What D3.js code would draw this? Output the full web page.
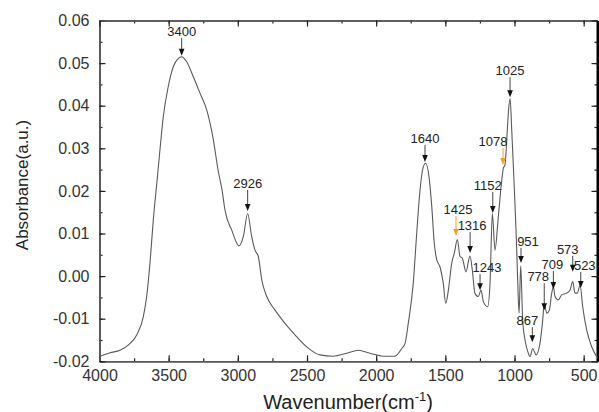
<!DOCTYPE html>
<html>
<head>
<meta charset="utf-8">
<script src="https://cdn.jsdelivr.net/npm/d3@7/dist/d3.min.js"></script>
<style>
  body { margin: 0; background: #fff; }
  svg { display: block; font-family: "Liberation Sans", Arial, sans-serif; }
</style>
</head>
<body>
<div id="chart"></div>
<script>
// FTIR spectrum
const wavenumber = [
    4000, 3924, 3852, 3792, 3731, 3683, 3659, 3635, 3611, 3587,
    3563, 3539, 3503, 3466, 3430, 3406, 3370, 3322, 3273, 3225,
    3177, 3143, 3114, 3093, 3044, 2992, 2960, 2929, 2900, 2876,
    2852, 2827, 2791, 2731, 2659, 2587, 2502, 2406, 2310, 2213,
    2129, 2045, 1948, 1864, 1815, 1791, 1768, 1732, 1707, 1683,
    1659, 1642, 1618, 1598, 1580, 1562, 1539, 1515, 1497, 1478,
    1454, 1435, 1413, 1394, 1377, 1351, 1322, 1305, 1286, 1262,
    1242, 1225, 1194, 1177, 1160, 1141, 1117, 1092, 1081, 1069,
    1054, 1043, 1032, 1020, 1004, 989, 977, 967, 955, 941,
    924, 900, 888, 868, 844, 816, 796, 785, 767, 748,
    731, 719, 707, 683, 659, 623, 599, 579, 563, 546,
    526, 507, 478, 442, 406, 400
];
const absorbance = [
    -0.0189, -0.0180, -0.0174, -0.0162, -0.0138, -0.0095, -0.0048, 0.0031, 0.0132, 0.0214,
    0.0296, 0.0374, 0.0445, 0.0492, 0.0511, 0.0515, 0.0503, 0.0468, 0.0429, 0.0390,
    0.0320, 0.0249, 0.0202, 0.0155, 0.0108, 0.0071, 0.0093, 0.0147, 0.0093, 0.0061,
    0.0046, -0.0009, -0.0048, -0.0080, -0.0111, -0.0138, -0.0166, -0.0185, -0.0188, -0.0181,
    -0.0174, -0.0181, -0.0188, -0.0188, -0.0170, -0.0158, -0.0111, -0.0017, 0.0100, 0.0202,
    0.0257, 0.0265, 0.0233, 0.0163, 0.0077, 0.0038, 0.0022, -0.0017, -0.0064, -0.0033,
    0.0030, 0.0054, 0.0086, 0.0046, 0.0042, 0.0010, 0.0047, 0.0014, -0.0040, -0.0048,
    -0.0033, -0.0060, -0.0072, -0.0017, 0.0147, 0.0061, 0.0139, 0.0226, 0.0253, 0.0261,
    0.0331, 0.0390, 0.0417, 0.0343, 0.0226, 0.0108, -0.0009, -0.0087, 0.0024, -0.0103,
    -0.0150, -0.0181, -0.0189, -0.0170, -0.0185, -0.0158, -0.0103, -0.0064, -0.0087, -0.0080,
    -0.0040, -0.0025, -0.0048, -0.0056, -0.0044, -0.0040, -0.0033, -0.0013, -0.0040, -0.0040,
    -0.0021, -0.0072, -0.0127, -0.0166, -0.0189, -0.0192
];

// peak annotations
const peakLabels = ['3400', '2926', '1640', '1078', '1025', '1152', '1425', '1316', '1243', '951', '867', '778', '709', '573', '523'];
const peakAt = [3406, 2929, 1647, 1083, 1032, 1157, 1423, 1321, 1249, 953, 871, 785, 719, 579, 521];
const peakTip = [0.0517, 0.0153, 0.0268, 0.0261, 0.0420, 0.0148, 0.0094, 0.0054, -0.0033, 0.0031, -0.0155, -0.0080, -0.0030, 0.0010, -0.0028];
const orangePeaks = ['1078', '1425'];

const xTicks = [4000, 3500, 3000, 2500, 2000, 1500, 1000, 500];
const yTicks = [0.06, 0.05, 0.04, 0.03, 0.02, 0.01, 0.00, -0.01, -0.02];

// layout for the annotation arrows (px)
const arrowLen = [18, 21, 17, 17, 20, 21, 20, 21, 16, 15, 15, 27, 18, 16, 16];
const labelDx = [0, 0, 0, -10, 0, -5, 2, 2, 7, 7, -5, -6, -1, -5, 4];

const width = 599;
const height = 412;
const mLeft = 99.5, mRight = 597.5, mTop = 20.5, mBottom = 361.3;

const svg = d3.select('#chart').append('svg').
    attr('width', width).
    attr('height', height);

const x = d3.scaleLinear().domain([4000, 400]).range([mLeft, mRight]);
const y = d3.scaleLinear().domain([-0.02, 0.06]).range([mBottom, mTop]);

const fmt = (d) => d3.format('.2f')(d).replace('\u2212', '-');

const minorX = d3.range(4000, 399, -250);
const minorY = d3.range(-0.02, 0.0601, 0.005);

// minor ticks
svg.append('g').
    attr('transform', `translate(0,${mBottom})`).
    call(d3.axisBottom(x).tickValues(minorX).tickSizeInner(-3).tickSizeOuter(0).tickFormat(''));
svg.append('g').
    attr('transform', `translate(0,${mTop})`).
    call(d3.axisTop(x).tickValues(minorX).tickSizeInner(-3).tickSizeOuter(0).tickFormat(''));
svg.append('g').
    attr('transform', `translate(${mLeft},0)`).
    call(d3.axisLeft(y).tickValues(minorY).tickSizeInner(-3).tickSizeOuter(0).tickFormat(''));
svg.append('g').
    attr('transform', `translate(${mRight},0)`).
    call(d3.axisRight(y).tickValues(minorY).tickSizeInner(-3).tickSizeOuter(0).tickFormat(''));

// major ticks
svg.append('g').
    attr('class', 'axis x').
    attr('transform', `translate(0,${mBottom})`).
    call(d3.axisBottom(x).tickValues(xTicks).tickSizeInner(-6).tickSizeOuter(0).tickPadding(8).tickFormat(d3.format('d')));

svg.append('g').
    attr('class', 'axis y').
    attr('transform', `translate(${mLeft},0)`).
    call(d3.axisLeft(y).tickValues(yTicks).tickSizeInner(-6).tickSizeOuter(0).tickPadding(10).tickFormat(fmt));

svg.append('g').
    attr('transform', `translate(0,${mTop})`).
    call(d3.axisTop(x).tickValues(xTicks).tickSizeInner(-6).tickSizeOuter(0).tickFormat(''));

const rAxis = svg.append('g').
    attr('transform', `translate(${mRight},0)`).
    call(d3.axisRight(y).tickValues(yTicks).tickSizeInner(-6).tickSizeOuter(0).tickFormat(''));

svg.selectAll('.tick line').attr('stroke', '#222').attr('stroke-width', 1.2);
svg.selectAll('.domain').attr('stroke', '#555').attr('stroke-width', 1.6);
rAxis.select('.domain').attr('stroke', '#000').attr('stroke-width', 3);

svg.selectAll('.axis text').
    attr('fill', '#333').
    style('font-size', '16px');

// spectrum
const pts = wavenumber.map((w, i) => [w, absorbance[i]]);
const line = d3.line().
    x((d) => x(d[0])).
    y((d) => y(d[1])).
    curve(d3.curveMonotoneX);

svg.append('path').
    datum(pts).
    attr('d', line).
    attr('fill', 'none').
    attr('stroke', '#5a5a5a').
    attr('stroke-width', 1.1);

// arrows + labels
const ann = svg.append('g').selectAll('g').data(peakLabels).join('g');

ann.each(function (label, i) {
    const g = d3.select(this);
    const ax = x(peakAt[i]);
    const tipY = y(peakTip[i]);
    const startY = tipY - arrowLen[i];
    const orange = orangePeaks.includes(label);
    const col = orange ? '#f0a030' : '#111';

    g.append('line').
        attr('x1', ax).attr('x2', ax).
        attr('y1', startY).attr('y2', tipY - 5).
        attr('stroke', orange ? '#f0a030' : '#444').
        attr('stroke-width', 1);

    g.append('path').
        attr('d', `M${ax - 2.8},${tipY - 7}L${ax + 2.8},${tipY - 7}L${ax},${tipY}Z`).
        attr('fill', col);

    g.append('text').
        attr('x', ax + labelDx[i]).
        attr('y', startY - 2).
        attr('text-anchor', 'middle').
        attr('fill', '#222').
        style('font-size', '13px').
        text(label);
});

// axis titles
const xt = svg.append('text').
    attr('x', 348).
    attr('y', 409).
    attr('text-anchor', 'middle').
    attr('fill', '#222').
    style('font-size', '20px');
xt.append('tspan').text('Wavenumber(cm');
xt.append('tspan').attr('dy', -8).style('font-size', '13px').text('-1');
xt.append('tspan').attr('dy', 8).text(')');

svg.append('text').
    attr('transform', 'translate(28,185) rotate(-90)').
    attr('text-anchor', 'middle').
    attr('fill', '#222').
    style('font-size', '17px').
    text('Absorbance(a.u.)');
</script>
</body>
</html>
